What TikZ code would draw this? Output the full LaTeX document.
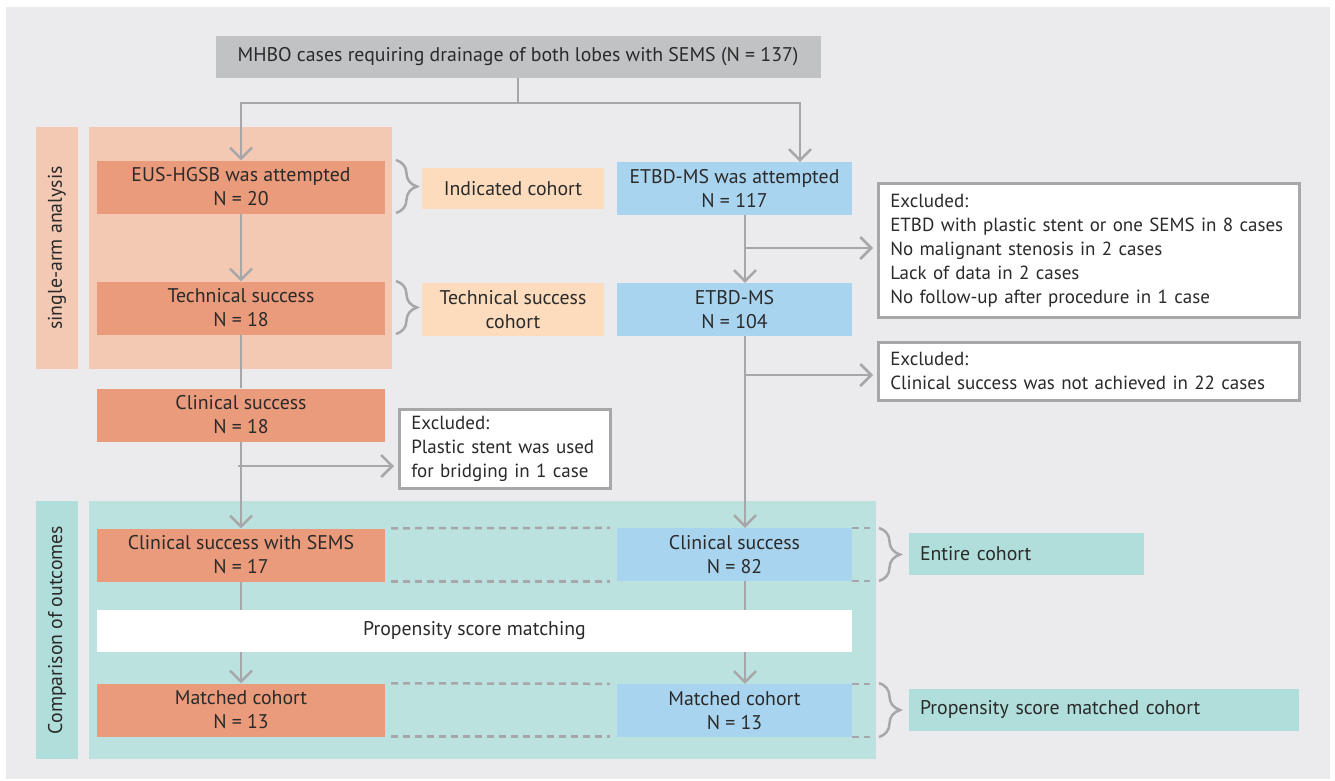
\documentclass[tikz,border=0pt]{standalone}
\usepackage{fontspec}
\setmainfont{PT Sans}
\usepackage{xcolor}
\usetikzlibrary{arrows.meta,decorations.pathreplacing}

\definecolor{bggray}{HTML}{EBEBED}
\definecolor{topgray}{HTML}{C1C2C4}
\definecolor{salmon}{HTML}{EA9B7B}
\definecolor{salmonpanel}{HTML}{F4C9B4}
\definecolor{peach}{HTML}{FDDCBE}
\definecolor{etbdblue}{HTML}{A9D4EF}
\definecolor{tealpanel}{HTML}{BBE2DF}
\definecolor{teallabel}{HTML}{B0DEDA}
\definecolor{linegray}{HTML}{A7A7A9}
\definecolor{txtgray}{HTML}{2A2A2A}

\begin{document}
\begin{tikzpicture}[x=1pt,y=-1pt,
		font=\fontsize{19.8}{24}\selectfont, text=txtgray,
		flowbox/.style={
			draw=none, align=center, inner sep=0pt,
			minimum width=288pt, minimum height=53pt,
		},
		eusbox/.style={flowbox, fill=salmon},
		etbdbox/.style={flowbox, fill=etbdblue, minimum width=235pt},
		cohortbox/.style={flowbox, fill=peach, minimum width=182pt, minimum height=41pt},
		groupbox/.style={flowbox, fill=teallabel, minimum width=0pt, minimum height=42pt,
			align=left, text width=#1, inner xsep=11pt},
		exclbox/.style={draw=linegray, line width=2.5pt, fill=white, align=left,
			anchor=north west, inner xsep=12pt, inner ysep=0pt,
			font=\fontsize{19}{24}\selectfont},
		striplabel/.style={rotate=90, inner sep=0pt, minimum height=42pt},
		arr/.style={draw=linegray, line width=2.5pt, -{Straight Barb[length=11pt,width=22pt,line width=2.5pt]}},
		link/.style={draw=linegray, line width=2.5pt},
		matchline/.style={draw=linegray, line width=2.5pt, dash pattern=on 7pt off 5pt},
		cohortbrace/.style={draw=linegray, line width=2.5pt, decorate,
			decoration={brace, amplitude=21pt}},
	]
	\useasboundingbox (0,0) rectangle (1335,780);
	\fill[bggray] (6,7) rectangle (1330,779);
	
	% panels
	\fill[salmonpanel] (89,127) rectangle (392,369);
	\node[striplabel, fill=salmonpanel, minimum width=242pt] (armlab) at (57,248) {single-arm analysis};
	\fill[tealpanel] (89,501) rectangle (876,759);
	\node[striplabel, fill=teallabel, minimum width=258pt] (complab) at (57,630) {Comparison of outcomes};
	
	% boxes
	\node[flowbox, fill=topgray, minimum width=605pt, minimum height=42pt] (top) at (518,57) {MHBO cases requiring drainage of both lobes with SEMS (N = 137)};
	
	\node[eusbox] (eus) at (241,187) {EUS-HGSB was attempted\\N = 20};
	\node[eusbox] (eustech) at (241,308) {Technical success\\N = 18};
	\node[eusbox] (eusclin) at (241,415) {Clinical success\\N = 18};
	\node[eusbox] (eussems) at (241,555) {Clinical success with SEMS\\N = 17};
	\node[eusbox] (eusmatch) at (241,710) {Matched cohort\\N = 13};
	
	\node[etbdbox] (etbd) at (734.5,188.5) {ETBD-MS was attempted\\N = 117};
	\node[etbdbox] (etbdms) at (734.5,309.5) {ETBD-MS\\N = 104};
	\node[etbdbox] (etbdclin) at (734.5,554.5) {Clinical success\\N = 82};
	\node[etbdbox] (etbdmatch) at (734.5,710.5) {Matched cohort\\N = 13};
	
	\node[cohortbox] (indic) at (513,188.5) {Indicated cohort};
	\node[cohortbox, minimum height=53pt] (techco) at (513,309.5) {Technical success\\cohort};
	
	\node[flowbox, fill=white, minimum width=755pt, minimum height=42pt] (psm) at (474.5,631) {Propensity score matching};
	
	\node[groupbox=213pt] (entire) at (1026.5,554) {Entire cohort};
	\node[groupbox=368pt] (psmco) at (1104,710) {Propensity score matched cohort};
	
	\node[exclbox, text width=397pt, minimum height=134pt] (excl1) at (877,182) {Excluded:\\\mbox{ETBD with plastic stent or one SEMS in 8 cases}\\No malignant stenosis in 2 cases\\Lack of data in 2 cases\\No follow-up after procedure in 1 case};
	\node[exclbox, text width=397pt, minimum height=58pt] (excl2) at (877,341) {Excluded:\\Clinical success was not achieved in 22 cases};
	\node[exclbox, text width=187pt, minimum height=79pt] (excl3) at (398,408) {Excluded:\\Plastic stent was used\\for bridging in 1 case};
	
	% connectors
	\draw[arr] (top.south) -- ++(0,25) -| (eus.north);
	\draw[arr] (top.south) -- ++(0,25) -| ([xshift=65.5pt]etbd.north);
	
	\draw[arr] (eus) -- (eustech);
	\draw[link] (eustech) -- (eusclin);
	\draw[arr] (eusclin) -- (eussems);
	\draw[link] (eussems.south) -- (eussems.south |- psm.north);
	\draw[arr] (eussems.south |- psm.south) -- (eusmatch.north);
	
	\draw[arr] ([xshift=10.5pt]etbd.south) -- ([xshift=10.5pt]etbdms.north);
	\draw[arr] ([xshift=10.5pt]etbdms.south) -- ([xshift=10.5pt]etbdclin.north);
	\draw[link] ([xshift=10.5pt]etbdclin.south) -- ([xshift=10.5pt]etbdclin.south |- psm.north);
	\draw[arr] ([xshift=10.5pt]etbdclin.south |- psm.south) -- ([xshift=10.5pt]etbdmatch.north);
	
	\coordinate (cut1) at (745,248);
	\coordinate (cut2) at (745,375);
	\coordinate (cut3) at (238,466);
	\draw[arr, shorten >=4pt] (cut1) -- (cut1 -| excl1.west);
	\draw[arr, shorten >=4pt] (cut2) -- (cut2 -| excl2.west);
	\draw[arr, shorten >=4pt] (cut3) -- (cut3 -| excl3.west);
	
	% matched pairs
	\foreach \l/\r in {eussems/etbdclin, eusmatch/etbdmatch}{
		\draw[matchline, shorten <=6pt, shorten >=7pt] (\l.north east) -- (\r.north west);
		\draw[matchline, shorten <=6pt, shorten >=7pt] (\l.south east) -- (\l.south east -| \r.west);
		\draw[matchline, shorten >=3pt] (\r.north east) -- ++(21,0);
		\draw[matchline, shorten >=3pt] (\r.south east) -- ++(21,0);
	}
	
	% braces
	\draw[cohortbrace] (396,160) -- (396,213);
	\draw[cohortbrace] (396,281) -- (396,334);
	\draw[cohortbrace] (879,528) -- (879,581);
	\draw[cohortbrace] (879,683) -- (879,737);
	
\end{tikzpicture}
\end{document}
